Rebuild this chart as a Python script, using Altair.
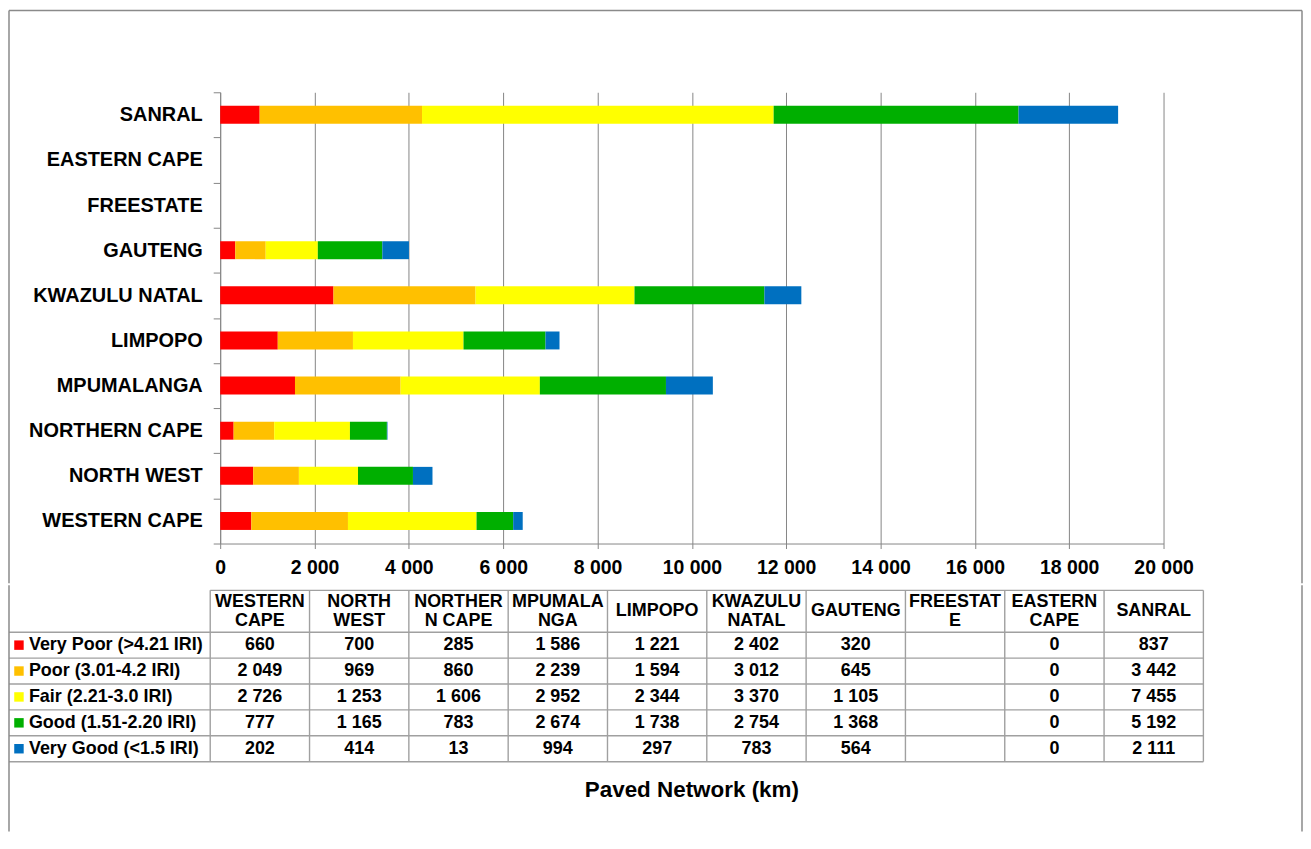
import altair as alt
import pandas as pd

# ---------------- data ----------------
categories = ["WESTERN CAPE", "NORTH WEST", "NORTHERN CAPE", "MPUMALANGA", "LIMPOPO",
              "KWAZULU NATAL", "GAUTENG", "FREESTATE", "EASTERN CAPE", "SANRAL"]
header_labels = ["WESTERN\nCAPE", "NORTH\nWEST", "NORTHER\nN CAPE", "MPUMALA\nNGA", "LIMPOPO",
                 "KWAZULU\nNATAL", "GAUTENG", "FREESTAT\nE", "EASTERN\nCAPE", "SANRAL"]
conditions = ["Very Poor (>4.21 IRI)", "Poor (3.01-4.2 IRI)", "Fair (2.21-3.0 IRI)",
              "Good (1.51-2.20 IRI)", "Very Good (<1.5 IRI)"]
colors = ["#FF0000", "#FFC000", "#FFFF00", "#00AF00", "#0070C0"]

very_poor = [660, 700, 285, 1586, 1221, 2402, 320, None, 0, 837]
poor = [2049, 969, 860, 2239, 1594, 3012, 645, None, 0, 3442]
fair = [2726, 1253, 1606, 2952, 2344, 3370, 1105, None, 0, 7455]
good = [777, 1165, 783, 2674, 1738, 2754, 1368, None, 0, 5192]
very_good = [202, 414, 13, 994, 297, 783, 564, None, 0, 2111]
series = [very_poor, poor, fair, good, very_good]

x_ticks = list(range(0, 20001, 2000))

FONT = "Liberation Sans"
GRID = "#868686"
TABLE_LINE = "#a0a0a0"
FRAME = "#8a8a8a"


def fmt(v):
    if v is None:
        return ""
    return f"{v:,}".replace(",", " ")


long_rows = []
for ci, cond in enumerate(conditions):
    for k, cat in enumerate(categories):
        v = series[ci][k]
        long_rows.append(dict(category=cat, condition=cond, cond_idx=ci, col=k,
                              value=(0 if v is None else v), label=fmt(v)))
df = pd.DataFrame(long_rows)

y_order = list(reversed(categories))
color_scale = alt.Scale(domain=conditions, range=colors)

# layout (pixels, relative to the bar plot's left edge)
LEFT = -212      # outer frame left
RIGHT = 1086     # outer frame right
TOP = -82        # outer frame top
SPLIT = 493      # where the bar section ends

# ---------------- bar chart ----------------
bars = alt.Chart(df).mark_bar(size=18).encode(
    x=alt.X("value:Q", stack="zero",
            scale=alt.Scale(domain=[0, 20000], nice=False),
            axis=alt.Axis(values=x_ticks, format=",d",
                          labelExpr="replace(datum.label, ',', ' ')",
                          title=None, grid=True, gridColor=GRID, gridWidth=1,
                          domainColor=GRID, tickColor=GRID, tickSize=5,
                          labelFont=FONT, labelFontSize=19.5, labelFontWeight="bold",
                          labelColor="black", labelPadding=10, labelFlush=False)),
    y=alt.Y("category:N", sort=y_order,
            scale=alt.Scale(paddingInner=0, paddingOuter=0),
            axis=alt.Axis(title=None, tickBand="extent", tickSize=7, tickColor=GRID,
                          domainColor=GRID, labelFont=FONT, labelFontSize=20,
                          labelFontWeight="bold", labelColor="black", labelPadding=11)),
    color=alt.Color("condition:N", scale=color_scale, legend=None),
    order=alt.Order("cond_idx:Q"),
)

one = pd.DataFrame({"k": [0]})
frame_top = alt.Chart(one).mark_rule(color=FRAME, strokeWidth=1.5).encode(
    x=alt.value(LEFT), x2=alt.value(RIGHT), y=alt.value(TOP))
frame_l1 = alt.Chart(one).mark_rule(color=FRAME, strokeWidth=1.5).encode(
    x=alt.value(LEFT), y=alt.value(TOP), y2=alt.value(SPLIT))
frame_r1 = alt.Chart(one).mark_rule(color=FRAME, strokeWidth=1.5).encode(
    x=alt.value(RIGHT), y=alt.value(TOP), y2=alt.value(SPLIT))

top_chart = alt.layer(bars, frame_top, frame_l1, frame_r1).properties(width=947, height=453)

# ---------------- data table ----------------
TW, TH = RIGHT, 247
COLW = 99.7
ROWH = 26.0
TABLE_X0 = -10   # left edge of first data column, px from plot origin
x_dom0 = -TABLE_X0 / COLW
x_dom1 = (TW - TABLE_X0) / COLW
x_frame = (LEFT - TABLE_X0) / COLW
y_top = -47 / ROWH
y_bottom = y_top + TH / ROWH
header_top = y_top + 5 / ROWH
header_mid = header_top / 2
line_off = 9.5 / ROWH

xs = alt.Scale(domain=[x_dom0, x_dom1], nice=False, zero=False)
ys = alt.Scale(domain=[y_top, y_bottom], nice=False, zero=False, reverse=True)
ncol = len(categories)
nrow = len(conditions)

vlines = pd.DataFrame({"x": list(range(ncol + 1)),
                       "y1": [header_top] * (ncol + 1), "y2": [nrow] * (ncol + 1)})
hl = [dict(x1=0, x2=ncol, y=header_top)]
for r in range(nrow + 1):
    hl.append(dict(x1=x_frame, x2=ncol, y=r))
hlines = pd.DataFrame(hl)

hdr = []
for k, lab in enumerate(header_labels):
    parts = lab.split("\n")
    if len(parts) == 1:
        hdr.append(dict(x=k + 0.5, y=header_mid, text=parts[0]))
    else:
        hdr.append(dict(x=k + 0.5, y=header_mid - line_off, text=parts[0]))
        hdr.append(dict(x=k + 0.5, y=header_mid + line_off, text=parts[1]))
header_df = pd.DataFrame(hdr)

cells_df = df.assign(x=df["col"] + 0.5, y=df["cond_idx"] + 0.5)
rowlab_df = pd.DataFrame({"condition": conditions,
                          "y": [r + 0.5 for r in range(nrow)]})

vline_layer = alt.Chart(vlines).mark_rule(color=TABLE_LINE, strokeWidth=1.4).encode(
    x=alt.X("x:Q", scale=xs, axis=None),
    y=alt.Y("y1:Q", scale=ys, axis=None), y2="y2:Q")
hline_layer = alt.Chart(hlines).mark_rule(color=TABLE_LINE, strokeWidth=1.4).encode(
    x=alt.X("x1:Q", scale=xs, axis=None), x2="x2:Q",
    y=alt.Y("y:Q", scale=ys, axis=None))
header_layer = alt.Chart(header_df).mark_text(
    font=FONT, fontSize=18, fontWeight="bold", color="black",
    align="center", baseline="middle").encode(
    x=alt.X("x:Q", scale=xs, axis=None), y=alt.Y("y:Q", scale=ys, axis=None),
    text="text:N")
cell_layer = alt.Chart(cells_df).mark_text(
    font=FONT, fontSize=18, fontWeight="bold", color="black",
    align="center", baseline="middle").encode(
    x=alt.X("x:Q", scale=xs, axis=None), y=alt.Y("y:Q", scale=ys, axis=None),
    text="label:N")
square_layer = alt.Chart(rowlab_df).mark_square(size=90, opacity=1).encode(
    x=alt.value(LEFT + 10), y=alt.Y("y:Q", scale=ys, axis=None),
    color=alt.Color("condition:N", scale=color_scale, legend=None))
rowtext_layer = alt.Chart(rowlab_df).mark_text(
    font=FONT, fontSize=18, fontWeight="bold", color="black",
    align="left", baseline="middle").encode(
    x=alt.value(LEFT + 20), y=alt.Y("y:Q", scale=ys, axis=None), text="condition:N")
title_layer = alt.Chart(pd.DataFrame({"t": ["Paved Network (km)"]})).mark_text(
    font=FONT, fontSize=22.5, fontWeight="bold", color="black",
    align="center", baseline="middle").encode(
    x=alt.value(473.5), y=alt.value(205), text="t:N")
frame_l2 = alt.Chart(one).mark_rule(color=FRAME, strokeWidth=1.5).encode(
    x=alt.value(LEFT), y=alt.value(0), y2=alt.value(TH))
frame_r2 = alt.Chart(one).mark_rule(color=FRAME, strokeWidth=1.5).encode(
    x=alt.value(RIGHT), y=alt.value(0), y2=alt.value(TH))

table_chart = alt.layer(vline_layer, hline_layer, header_layer, cell_layer,
                        square_layer, rowtext_layer, title_layer,
                        frame_l2, frame_r2).properties(width=TW, height=TH)

chart = alt.vconcat(top_chart, table_chart, spacing=0).properties(
    padding=0, background="white"
).configure_view(strokeWidth=0)

chart.save("out.html", embed_options={"renderer": "svg", "actions": False})
